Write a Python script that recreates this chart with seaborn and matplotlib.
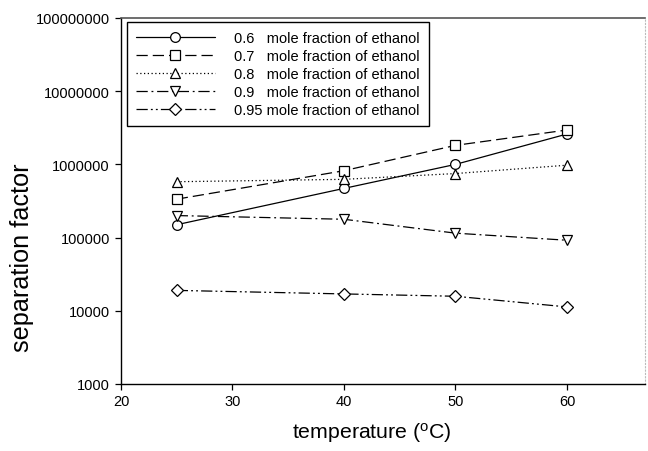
import matplotlib
matplotlib.use("Agg")
import matplotlib.pyplot as plt
import seaborn as sns
import pandas as pd
import numpy as np

temperature = [25, 40, 50, 60]
sf_06 = [150000, 470000, 1000000, 2600000]
sf_07 = [335000, 820000, 1820000, 2950000]
sf_08 = [580000, 625000, 750000, 975000]
sf_09 = [200000, 178000, 115000, 92000]
sf_095 = [19000, 17000, 15800, 11300]
fractions = ["0.6", "0.7", "0.8", "0.9", "0.95"]
ytick_vals = [1000, 10000, 100000, 1000000, 10000000, 100000000]
xtick_vals = [20, 30, 40, 50, 60]

series = [sf_06, sf_07, sf_08, sf_09, sf_095]
labels = ["0.6   mole fraction of ethanol",
          "0.7   mole fraction of ethanol",
          "0.8   mole fraction of ethanol",
          "0.9   mole fraction of ethanol",
          "0.95 mole fraction of ethanol"]
markers = ["o", "s", "^", "v", "D"]
msizes = [7, 6.5, 7, 7, 6]
linestyles = ["-", (0, (9, 4)), (0, (1, 2)), (0, (9, 3, 1.5, 3)), (0, (9, 2.5, 1.5, 2.5, 1.5, 2.5))]

sns.set_style("ticks")
plt.rcParams["font.family"] = ["Liberation Sans", "DejaVu Sans"]
plt.rcParams["text.color"] = "black"
plt.rcParams["axes.labelcolor"] = "black"

fig = plt.figure(figsize=(6.48, 4.52), dpi=100)
ax = fig.add_axes([121 / 648, 1 - 385 / 452, (645 - 121) / 648, (385 - 19) / 452])

for vals, lab, mk, ms, ls in zip(series, labels, markers, msizes, linestyles):
    df = pd.DataFrame({"t": temperature, "sf": vals})
    sns.lineplot(data=df, x="t", y="sf", ax=ax, color="black", linewidth=0.9,
                 linestyle=ls, marker=mk, markersize=ms, markerfacecolor="white",
                 markeredgecolor="black", markeredgewidth=0.9, label=lab)

ax.set_yscale("log")
ax.set_ylim(1000, 100000000)
ax.set_xlim(20, 67)
ax.set_yticks(ytick_vals)
ax.set_yticklabels([str(v) for v in ytick_vals])
ax.yaxis.set_minor_locator(matplotlib.ticker.NullLocator())
ax.set_xticks(xtick_vals)
ax.set_xticklabels([str(v) for v in xtick_vals])
ax.tick_params(axis="both", direction="out", length=4, width=0.9, labelsize=10.5, colors="black")
ax.tick_params(axis="y", pad=4)

ax.set_xlabel("temperature ($\\mathregular{^{o}}$C)", fontsize=15.3, color="black")
ax.set_ylabel("separation factor", fontsize=18.2, color="black")
ax.xaxis.set_label_coords((372 - 121) / 524, -(421 - 385) / 366)
ax.yaxis.set_label_coords(-(121 - 34) / 524, (385 - 258) / 366)

for s in ["left", "bottom"]:
    ax.spines[s].set_color("black")
    ax.spines[s].set_linewidth(1.0)
ax.spines["top"].set_color("#555555")
ax.spines["top"].set_linewidth(1.2)
ax.spines["right"].set_color("#bbbbbb")
ax.spines["right"].set_linestyle((0, (1, 2)))
ax.spines["right"].set_linewidth(0.8)

leg = ax.legend(loc="upper left", bbox_to_anchor=((127 - 121) / 524, 1 - (23 - 19) / 366),
                borderaxespad=0, frameon=True, fancybox=False, edgecolor="black",
                fontsize=10.5, handlelength=5.4, handletextpad=1.35, labelspacing=0.28,
                borderpad=0.6)
leg.get_frame().set_linewidth(1.0)
leg.get_frame().set_alpha(1)
for t in leg.get_texts():
    t.set_color("black")

fig.savefig("out.png", dpi=100)
